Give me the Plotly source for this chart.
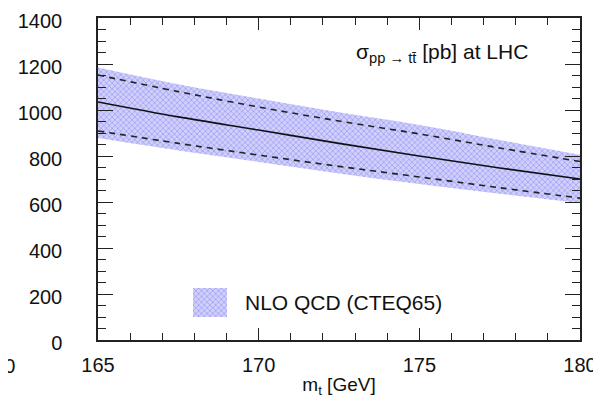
import plotly.graph_objects as go

# Top-quark mass [GeV]
mt = [165, 167.5, 170, 172.5, 175, 177.5, 180]
# NLO QCD cross section [pb]
central = [1035, 970, 913, 855, 800, 748, 700]
upper_dash = [1152, 1080, 1013, 952, 896, 835, 776]
lower_dash = [909, 855, 804, 755, 709, 662, 617]
band_top = [1185, 1112, 1050, 990, 935, 870, 805]
band_bottom = [878, 824, 774, 724, 678, 636, 596]

y_ticks = [0, 200, 400, 600, 800, 1000, 1200, 1400]
x_ticks = [165, 170, 175, 180]

FONT = "Liberation Sans, Arial, Helvetica, sans-serif"
BAND_FG = "#6c6cee"
BAND_BG = "#d0d0fb"

fig = go.Figure()

fig.add_trace(go.Scatter(x=mt, y=band_bottom, mode="lines", line=dict(width=0, shape="spline"),
                         showlegend=False, hoverinfo="skip"))
fig.add_trace(go.Scatter(x=mt, y=band_top, mode="lines", line=dict(width=0, shape="spline"),
                         fill="tonexty", fillcolor=BAND_BG,
                         fillpattern=dict(shape="x", fgcolor=BAND_FG, bgcolor=BAND_BG, size=4, solidity=0.35),
                         name="NLO QCD (CTEQ65)", showlegend=False))
fig.add_trace(go.Scatter(x=mt, y=upper_dash, mode="lines",
                         line=dict(color="#222", width=1.6, dash="6px,5px", shape="spline"), showlegend=False))
fig.add_trace(go.Scatter(x=mt, y=lower_dash, mode="lines",
                         line=dict(color="#222", width=1.6, dash="6px,5px", shape="spline"), showlegend=False))
fig.add_trace(go.Scatter(x=mt, y=central, mode="lines",
                         line=dict(color="#111", width=1.6, shape="spline"), showlegend=False))

# Legend key swatch (small inset axes)
fig.add_trace(go.Scatter(x=[0, 1, 1, 0, 0], y=[0, 0, 1, 1, 0], mode="lines", line=dict(width=0),
                         fill="toself", fillcolor=BAND_BG,
                         fillpattern=dict(shape="x", fgcolor=BAND_FG, bgcolor=BAND_BG, size=4, solidity=0.35),
                         xaxis="x2", yaxis="y2", showlegend=False, hoverinfo="skip"))

# page has an 8px body margin: figure coordinates = page coordinates - 8
OFF = 8
W, H = 601 - OFF, 409 - OFF
L, R, T, B = 98 - OFF, 580 - OFF, 18 - OFF, 340 - OFF

def px_x(p):
    return (p - OFF - L) / (R - L)

def px_y(p):
    return (B - (p - OFF)) / (B - T)

fig.update_layout(
    width=W, height=H,
    margin=dict(l=L, r=W - R, t=T, b=H - B, autoexpand=False),
    paper_bgcolor="white", plot_bgcolor="white",
    font=dict(family=FONT, size=20, color="#111"),
    xaxis=dict(range=[165, 180], tickvals=x_ticks, ticktext=[str(v) for v in x_ticks],
               ticks="inside", ticklen=12, tickwidth=1.2, tickcolor="#222",
               minor=dict(dtick=1, ticks="inside", ticklen=7, tickwidth=1, tickcolor="#222"),
               showline=True, linecolor="#222", linewidth=1.5, mirror="allticks",
               showgrid=False, zeroline=False, ticklabelstandoff=6, ticklabeloverflow="allow",
               title=dict(text="m<sub>t</sub> [GeV]", font=dict(size=19), standoff=3)),
    yaxis=dict(range=[0, 1400], tickvals=y_ticks, ticktext=[str(v) for v in y_ticks],
               ticks="inside", ticklen=15, tickwidth=1.2, tickcolor="#222",
               minor=dict(dtick=50, ticks="inside", ticklen=8, tickwidth=1, tickcolor="#222"),
               showline=True, linecolor="#222", linewidth=1.5, mirror="allticks",
               showgrid=False, zeroline=False, ticklabelstandoff=30, ticklabelshift=3,
               ticklabeloverflow="allow"),
    xaxis2=dict(domain=[px_x(193), px_x(227)], range=[0, 1], visible=False, anchor="y2", fixedrange=True),
    yaxis2=dict(domain=[px_y(317), px_y(288)], range=[0, 1], visible=False, anchor="x2", fixedrange=True),
    showlegend=False,
    annotations=[
        dict(text="NLO QCD (CTEQ65)", xref="paper", yref="paper", x=px_x(243), y=px_y(302),
             xanchor="left", yanchor="middle", showarrow=False, font=dict(size=21)),
        dict(text="σ<sub>pp → tt̄</sub> [pb] at LHC", xref="paper", yref="paper", x=px_x(530), y=px_y(53),
             xanchor="right", yanchor="middle", showarrow=False, font=dict(size=21)),
        dict(text="160", xref="paper", yref="paper", x=px_x(17), y=px_y(366),
             xanchor="right", yanchor="middle", showarrow=False, font=dict(size=20)),
    ],
)

fig.write_html("out.html")
